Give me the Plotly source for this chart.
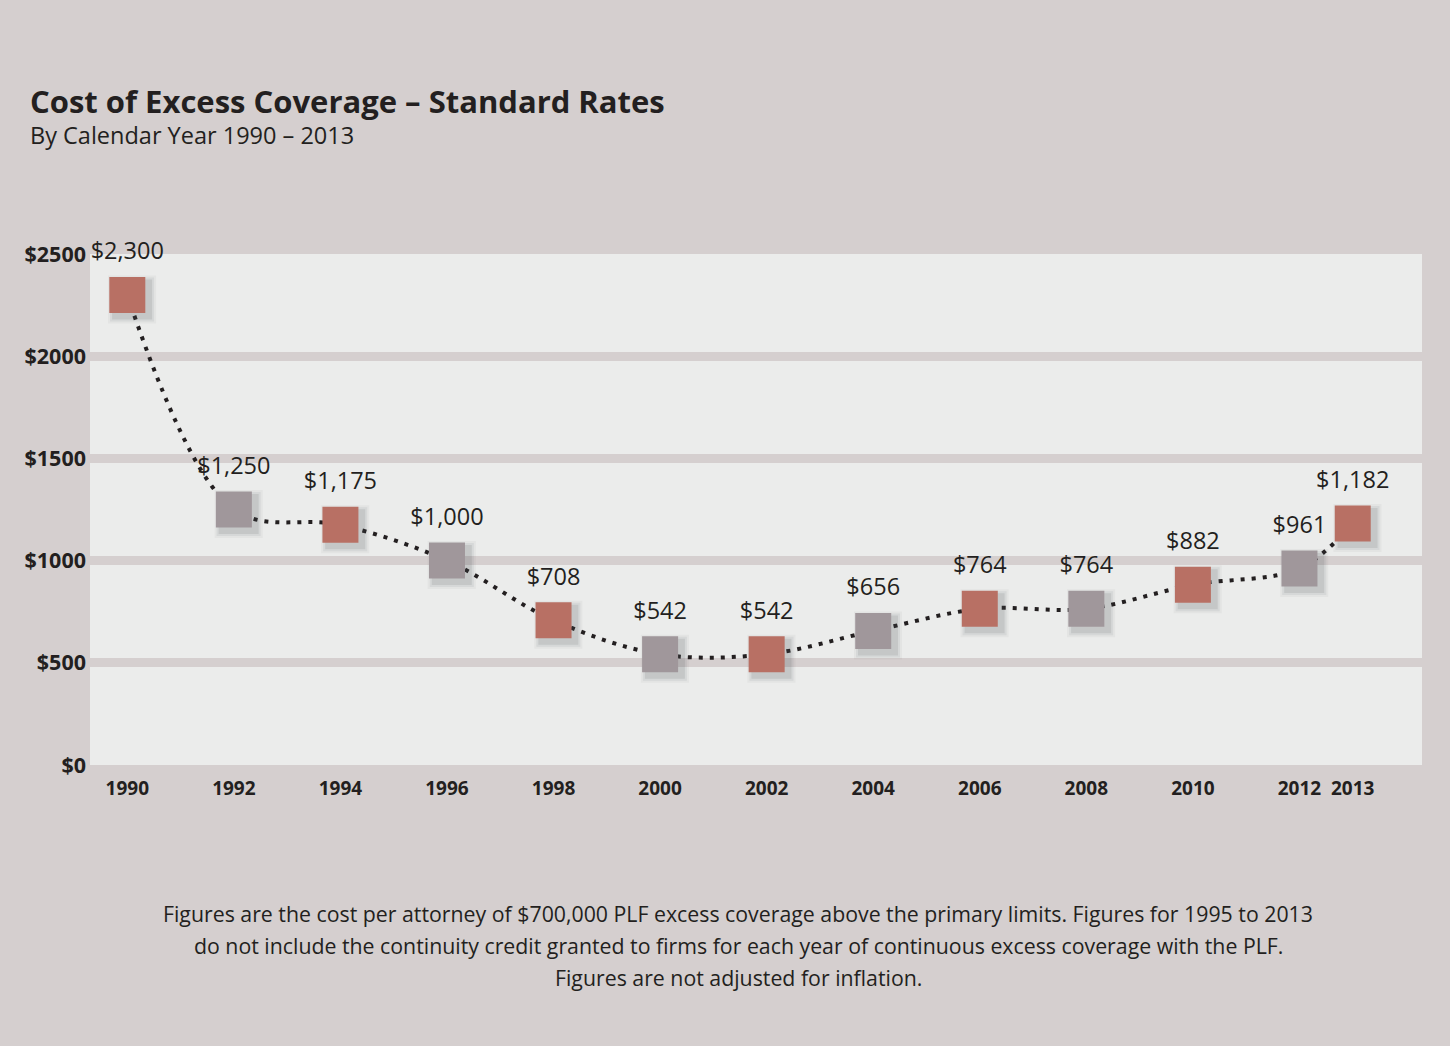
import plotly.graph_objects as go

years = [1990, 1992, 1994, 1996, 1998, 2000, 2002, 2004, 2006, 2008, 2010, 2012, 2013]
costs = [2300, 1250, 1175, 1000, 708, 542, 542, 656, 764, 764, 882, 961, 1182]
year_labels = [str(y) for y in years]
y_ticks = [0, 500, 1000, 1500, 2000, 2500]
y_tick_labels = ["$0", "$500", "$1000", "$1500", "$2000", "$2500"]

RED = "#b87064"
GREY = "#a0979b"
BG = "#d5cfcf"
PLOT = "#ebeceb"
INK = "#231f20"
FONT = "Open Sans"

colors = [RED if i % 2 == 0 else GREY for i in range(len(years))]
labels = ["${:,}".format(v) for v in costs]

fig = go.Figure()

# dotted connecting line
fig.add_trace(go.Scatter(
    x=years, y=costs, mode="lines",
    line=dict(color=INK, width=4, dash="4px,7px", shape="spline", smoothing=1.0),
    hoverinfo="skip", showlegend=False, cliponaxis=False))

# soft shadows behind markers
for size, alpha in [(48, 0.05), (44, 0.08), (40, 0.12)]:
    fig.add_trace(go.Scatter(
        x=[x + 0.09 for x in years], y=[c - 22 for c in costs], mode="markers",
        marker=dict(symbol="square", size=size, color=f"rgba(70,80,85,{alpha})", line=dict(width=0)),
        hoverinfo="skip", showlegend=False, cliponaxis=False))

# markers
fig.add_trace(go.Scatter(
    x=years, y=costs, mode="markers",
    marker=dict(symbol="square", size=36, color=colors, line=dict(width=0)),
    showlegend=False, cliponaxis=False))

# value labels (invisible larger marker to push the text a little higher)
fig.add_trace(go.Scatter(
    x=years, y=costs, mode="markers+text",
    marker=dict(symbol="square", size=46, color="rgba(0,0,0,0)"),
    text=labels, textposition="top center",
    textfont=dict(family=FONT, size=23.5, color=INK),
    hoverinfo="skip", showlegend=False, cliponaxis=False))

fig.update_layout(
    width=1450, height=1046,
    margin=dict(l=90, r=28, t=254, b=281),
    paper_bgcolor=BG, plot_bgcolor=PLOT,
    font=dict(family=FONT, color=INK),
    xaxis=dict(
        range=[1989.3, 2014.3], tickvals=years, ticktext=year_labels,
        showgrid=False, zeroline=False, showline=False, ticks="",
        ticklabelstandoff=10,
        tickfont=dict(family=FONT, size=19, color=INK, weight="bold"),
        fixedrange=True),
    yaxis=dict(
        range=[0, 2500], tickvals=y_ticks, ticktext=y_tick_labels,
        showgrid=False, zeroline=False, showline=False, ticks="",
        ticklabelstandoff=3,
        tickfont=dict(family=FONT, size=21.5, color=INK, weight="bold"),
        minor=dict(tickvals=[500, 1000, 1500, 2000], showgrid=True,
                   gridcolor=BG, gridwidth=9, ticks=""),
        fixedrange=True),
    annotations=[
        dict(text="<b>Cost of Excess Coverage – Standard Rates</b>", xref="paper", yref="paper",
             x=(28 - 90) / 1332, y=(765 - 101) / 511, xanchor="left", yanchor="middle",
             showarrow=False, font=dict(family=FONT, size=31, color=INK)),
        dict(text="By Calendar Year 1990 – 2013", xref="paper", yref="paper",
             x=(28 - 90) / 1332, y=(765 - 135) / 511, xanchor="left", yanchor="middle",
             showarrow=False, font=dict(family=FONT, size=23.5, color=INK)),
        dict(text="Figures are the cost per attorney of $700,000 PLF excess coverage above the primary limits. Figures for 1995 to 2013",
             xref="paper", yref="paper", x=(738 - 90) / 1332, y=(765 - 913) / 511,
             xanchor="center", yanchor="middle", showarrow=False,
             font=dict(family=FONT, size=21.3, color=INK)),
        dict(text="do not include the continuity credit granted to firms for each year of continuous excess coverage with the PLF.",
             xref="paper", yref="paper", x=(738 - 90) / 1332, y=(765 - 945) / 511,
             xanchor="center", yanchor="middle", showarrow=False,
             font=dict(family=FONT, size=21.3, color=INK)),
        dict(text="Figures are not adjusted for inflation.",
             xref="paper", yref="paper", x=(738 - 90) / 1332, y=(765 - 977) / 511,
             xanchor="center", yanchor="middle", showarrow=False,
             font=dict(family=FONT, size=21.3, color=INK)),
    ],
)

fig.write_html("out.html")
